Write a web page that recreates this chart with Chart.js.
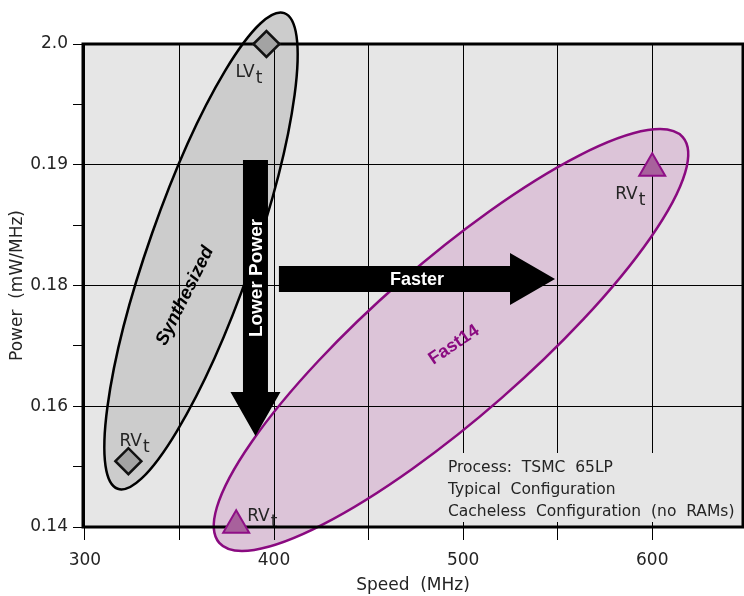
<!DOCTYPE html>
<html><head><meta charset="utf-8">
<script src="https://cdn.jsdelivr.net/npm/chart.js@4/dist/chart.umd.min.js"></script>
<style>html,body{margin:0;padding:0;background:#fff;}</style>
</head><body>
<canvas id="c" width="744" height="596"></canvas>
<script>
// ---- data ----
const xTickValues = [300, 350, 400, 450, 500, 550, 600];
const xLabelValues = [300, 400, 500, 600];
const yTickValues = [0.14, 0.16, 0.18, 0.19, 0.20];
const yTickLabels = ['0.14', '0.16', '0.18', '0.19', '2.0'];

const synthLabels = ['LV', 'RV'];
const synthSpeed = [396, 323];
const synthPower = [0.200, 0.1509];

const fastLabels = ['RV', 'RV'];
const fastSpeed = [600, 380];
const fastPower = [0.1897, 0.1403];

const infoLines = ['Process:  TSMC  65LP', 'Typical  Configuration', 'Cacheless  Configuration  (no  RAMs)'];

// axis uses evenly spaced label slots; map power onto slot position
function powerToSlot(p) {
  const n = yTickValues.length;
  for (let i = 0; i < n - 1; i++) {
    const a = yTickValues[i], b = yTickValues[i + 1];
    if (p <= b || i === n - 2) return i + (p - a) / (b - a);
  }
}
const yTicks = [];
yTickLabels.forEach((_, i) => { yTicks.push(i); if (i < yTickLabels.length - 1) yTicks.push(i + 0.5); });

const FONT = '"DejaVu Sans", sans-serif';
const BOLD = '"Liberation Sans", Arial, sans-serif';
const TXT = '#242424';

function drawEllipse(ctx, xs, ys, e, fill, stroke) {
  const cx = xs.getPixelForValue(e.cx), cy = ys.getPixelForValue(e.cy);
  ctx.beginPath();
  ctx.ellipse(cx, cy, e.a, e.b, e.rot * Math.PI / 180, 0, Math.PI * 2);
  if (fill) { ctx.fillStyle = fill; ctx.fill(); }
  if (stroke) { ctx.strokeStyle = stroke; ctx.lineWidth = 2.5; ctx.stroke(); }
}
const synthEllipse = {cx: 361.4, cy: 2.286, a: 252, b: 52, rot: -70.7};
const fastEllipse = {cx: 493.6, cy: 1.549, a: 308, b: 77, rot: -41.2};

function subLabel(ctx, text, x, y) {
  ctx.font = '17px ' + FONT;
  ctx.fillStyle = TXT;
  ctx.textAlign = 'left'; ctx.textBaseline = 'alphabetic';
  ctx.fillText(text, x, y);
  const w = ctx.measureText(text).width;
  ctx.fillText('t', x + w + 1, y + 6);
}

const annot = {
  id: 'annot',
  beforeDraw(chart) {
    const {ctx, chartArea: a, scales: {x, y}} = chart;
    ctx.save();
    ctx.fillStyle = '#e6e6e6';
    ctx.fillRect(a.left, a.top, a.width, a.height);
    drawEllipse(ctx, x, y, synthEllipse, '#cccccc', null);
    drawEllipse(ctx, x, y, fastEllipse, '#dcc4d8', null);
    ctx.restore();
  },
  beforeDatasetsDraw(chart) {
    const {ctx, chartArea: a, scales: {x, y}} = chart;
    ctx.save();
    drawEllipse(ctx, x, y, synthEllipse, null, '#000');
    drawEllipse(ctx, x, y, fastEllipse, null, '#8a0a80');

    // Lower Power arrow (vertical)
    const ax = x.getPixelForValue(390.2);
    const aTop = y.getPixelForValue(3.04), aHead = y.getPixelForValue(1.118), aTip = y.getPixelForValue(0.754);
    ctx.fillStyle = '#000';
    ctx.beginPath();
    ctx.moveTo(ax - 12.5, aTop); ctx.lineTo(ax + 12.5, aTop); ctx.lineTo(ax + 12.5, aHead);
    ctx.lineTo(ax + 25, aHead); ctx.lineTo(ax, aTip); ctx.lineTo(ax - 25, aHead);
    ctx.lineTo(ax - 12.5, aHead); ctx.closePath(); ctx.fill();

    // Faster arrow (horizontal)
    const fy = y.getPixelForValue(2.054);
    const fL = x.getPixelForValue(402.6), fH = x.getPixelForValue(524.8), fT = x.getPixelForValue(548.6);
    ctx.beginPath();
    ctx.moveTo(fL, fy - 13); ctx.lineTo(fH, fy - 13); ctx.lineTo(fH, fy - 26);
    ctx.lineTo(fT, fy); ctx.lineTo(fH, fy + 26); ctx.lineTo(fH, fy + 13);
    ctx.lineTo(fL, fy + 13); ctx.closePath(); ctx.fill();

    // arrow texts
    ctx.fillStyle = '#fff';
    ctx.font = 'bold 18px ' + BOLD;
    ctx.textAlign = 'center'; ctx.textBaseline = 'middle';
    ctx.fillText('Faster', 417, fy + 1);
    ctx.save();
    ctx.translate(ax + 1, 278); ctx.rotate(-Math.PI / 2);
    ctx.font = 'bold 19px ' + BOLD;
    ctx.fillText('Lower Power', 0, 0);
    ctx.restore();

    // ellipse names
    ctx.save();
    ctx.translate(185, 296); ctx.rotate(-63.5 * Math.PI / 180);
    ctx.fillStyle = '#000';
    ctx.font = 'italic bold 18.5px ' + BOLD;
    ctx.fillText('Synthesized', 0, 0);
    ctx.restore();
    ctx.save();
    ctx.translate(454, 345); ctx.rotate(-34 * Math.PI / 180);
    ctx.fillStyle = '#8a0a80';
    ctx.font = 'bold 18px ' + BOLD;
    ctx.fillText('Fast14', 0, 0);
    ctx.restore();

    // info box
    ctx.fillStyle = '#e6e6e6';
    ctx.fillRect(445, 453, a.right - 445 - 2, 69);
    ctx.fillStyle = TXT;
    ctx.font = '15.5px ' + FONT;
    ctx.textAlign = 'left'; ctx.textBaseline = 'alphabetic';
    infoLines.forEach((t, i) => ctx.fillText(t, 448, 472 + i * 22));

    // point labels
    const p = (xs, ps) => [x.getPixelForValue(xs), y.getPixelForValue(powerToSlot(ps))];
    let q = p(synthSpeed[0], synthPower[0]); subLabel(ctx, synthLabels[0], q[0] - 31, q[1] + 33);
    q = p(synthSpeed[1], synthPower[1]); subLabel(ctx, synthLabels[1], q[0] - 9, q[1] - 15);
    q = p(fastSpeed[0], fastPower[0]); subLabel(ctx, fastLabels[0], q[0] - 37, q[1] + 31);
    q = p(fastSpeed[1], fastPower[1]); subLabel(ctx, fastLabels[1], q[0] + 11, q[1] - 4);

    // frame
    ctx.strokeStyle = '#000'; ctx.lineWidth = 3;
    ctx.strokeRect(a.left, a.top, a.width, a.height);
    ctx.restore();
  }
};

new Chart(document.getElementById('c'), {
  type: 'scatter',
  data: {
    datasets: [
      {
        label: 'Synthesized',
        data: synthSpeed.map((v, i) => ({x: v, y: powerToSlot(synthPower[i])})),
        pointStyle: 'rectRot', pointRadius: 13, pointHoverRadius: 13,
        backgroundColor: '#a3a3a3', borderColor: '#111', borderWidth: 2.5, clip: false
      },
      {
        label: 'Fast14',
        data: fastSpeed.map((v, i) => ({x: v, y: powerToSlot(fastPower[i])})),
        pointStyle: 'triangle', pointRadius: 15, pointHoverRadius: 15,
        backgroundColor: '#a8619c', borderColor: '#8e0f86', borderWidth: 2, clip: false
      }
    ]
  },
  options: {
    responsive: false, animation: false, devicePixelRatio: 1,
    layout: {autoPadding: false, padding: {top: 44, right: 1, left: 0, bottom: 0}},
    plugins: {legend: {display: false}, tooltip: {enabled: false}},
    scales: {
      x: {
        type: 'linear', min: 299, max: 648,
        afterBuildTicks: s => { s.ticks = xTickValues.map(v => ({value: v})); },
        afterFit: s => { s.height = 69; s.paddingLeft = 0; s.paddingRight = 0; },
        grid: {color: '#000', lineWidth: 1, tickColor: '#000', tickLength: 13},
        border: {display: false},
        ticks: {
          padding: 10, color: TXT, font: {family: FONT, size: 17}, maxRotation: 0, autoSkip: false,
          callback: v => xLabelValues.includes(v) ? String(v) : ''
        },
        title: {display: true, text: 'Speed  (MHz)', color: TXT, font: {family: FONT, size: 17}, padding: {top: 0, bottom: 0}}
      },
      y: {
        type: 'linear', min: 0, max: yTickLabels.length - 1,
        afterBuildTicks: s => { s.ticks = yTicks.map(v => ({value: v})); },
        afterFit: s => { s.width = 83; s.paddingTop = 0; s.paddingBottom = 0; },
        grid: {color: c => (c.tick && Number.isInteger(c.tick.value)) ? '#000' : 'rgba(0,0,0,0)', lineWidth: 1, tickColor: '#000', tickLength: 10},
        border: {display: false},
        ticks: {
          padding: 5, color: TXT, font: {family: FONT, size: 17}, autoSkip: false,
          callback: v => Number.isInteger(v) ? yTickLabels[v] : ''
        },
        title: {display: true, text: 'Power  (mW/MHz)', color: TXT, font: {family: FONT, size: 17}, padding: {top: 7, bottom: 0}}
      }
    }
  },
  plugins: [annot]
});
</script>
</body></html>
